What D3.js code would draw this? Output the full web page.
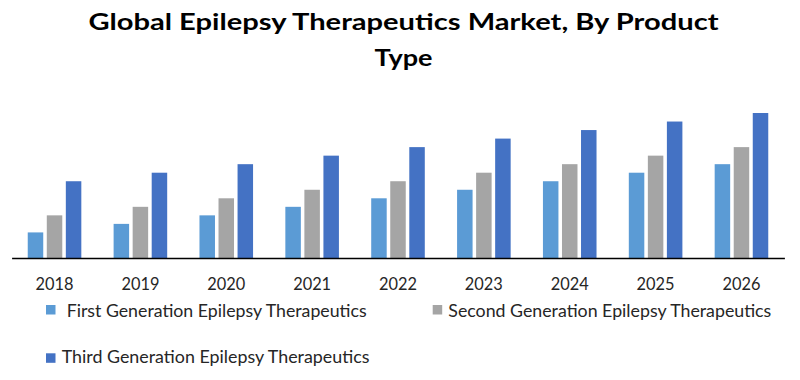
<!DOCTYPE html>
<html>
<head>
<meta charset="utf-8">
<script src="https://cdn.jsdelivr.net/npm/d3@7"></script>
<style>
  html, body { margin: 0; padding: 0; background: #ffffff; }
  svg { display: block; }
  text { font-family: Lato, "Open Sans", "Noto Sans", sans-serif; }
</style>
</head>
<body>
<svg id="chart" width="800" height="380"></svg>
<script>
// ---- data ----
const years = ["2018", "2019", "2020", "2021", "2022", "2023", "2024", "2025", "2026"];
const seriesNames = [
  "First Generation Epilepsy Therapeutics",
  "Second Generation Epilepsy Therapeutics",
  "Third Generation Epilepsy Therapeutics"
];
const firstGen  = [3, 4, 5, 6, 7, 8, 9, 10, 11];
const secondGen = [5, 6, 7, 8, 9, 10, 11, 12, 13];
const thirdGen  = [9, 10, 11, 12, 13, 14, 15, 16, 17];
const titleLines = ["Global Epilepsy Therapeutics Market, By Product", "Type"];

// ---- styles / layout ----
const colors = ["#5B9BD5", "#A5A5A5", "#4472C4"];
const seriesValues = [firstGen, secondGen, thirdGen];
const rows = years.map((yr, i) => ({ year: yr, values: seriesValues.map((s, k) => ({ key: seriesNames[k], value: s[i], k })) }));

const svg = d3.select("#chart");
const baseY = 258;

const x0 = d3.scaleBand().domain(years).range([11.6, 784.4]).paddingInner(0.376).paddingOuter(0.188);
const x1 = d3.scaleBand().domain(seriesNames).range([0, x0.bandwidth()]).paddingInner(0.186).paddingOuter(0);
const y = d3.scaleLinear().domain([0, 17]).range([baseY, 113]);

// title
const titleW = [630, 58];
const titleY = [29.5, 65.5];
svg.selectAll("text.title").data(titleLines).join("text")
  .attr("class", "title")
  .attr("x", 403.5)
  .attr("y", (d, i) => titleY[i])
  .attr("text-anchor", "middle")
  .attr("font-size", 22.5)
  .attr("font-weight", "bold")
  .attr("fill", "#000")
  .attr("textLength", (d, i) => titleW[i])
  .attr("lengthAdjust", "spacingAndGlyphs")
  .text(d => d);

// bars
const groups = svg.append("g").selectAll("g").data(rows).join("g")
  .attr("transform", d => `translate(${x0(d.year)},0)`);
groups.selectAll("rect").data(d => d.values).join("rect")
  .attr("x", d => x1(d.key))
  .attr("y", d => y(d.value))
  .attr("width", x1.bandwidth())
  .attr("height", d => y(0) - y(d.value))
  .attr("fill", d => colors[d.k]);

// axis
const axis = svg.append("g")
  .attr("transform", `translate(0,${baseY})`)
  .call(d3.axisBottom(x0).tickSize(0).tickSizeOuter(0));
axis.select(".domain").attr("stroke", "#000").attr("stroke-width", 1.6);
axis.selectAll(".tick text")
  .attr("y", 32)
  .attr("dy", null)
  .attr("font-size", 17)
  .attr("font-family", "Lato, 'Open Sans', sans-serif")
  .attr("fill", "#262626")
  .attr("textLength", 38)
  .attr("lengthAdjust", "spacingAndGlyphs");

// legend
const legendPos = [
  { sx: 46, sy: 305, tx: 66.7, ty: 316.5, w: 300 },
  { sx: 432.7, sy: 305, tx: 448.3, ty: 316.5, w: 323 },
  { sx: 46, sy: 353.3, tx: 61.7, ty: 363, w: 307.7 }
];
const legend = svg.append("g").selectAll("g").data(seriesNames).join("g");
legend.append("rect")
  .attr("x", (d, i) => legendPos[i].sx)
  .attr("y", (d, i) => legendPos[i].sy)
  .attr("width", 9.5).attr("height", 9.5)
  .attr("fill", (d, i) => colors[i]);
legend.append("text")
  .attr("x", (d, i) => legendPos[i].tx)
  .attr("y", (d, i) => legendPos[i].ty)
  .attr("font-size", 17)
  .attr("fill", "#262626")
  .attr("textLength", (d, i) => legendPos[i].w)
  .attr("lengthAdjust", "spacingAndGlyphs")
  .text(d => d);
</script>
</body>
</html>
